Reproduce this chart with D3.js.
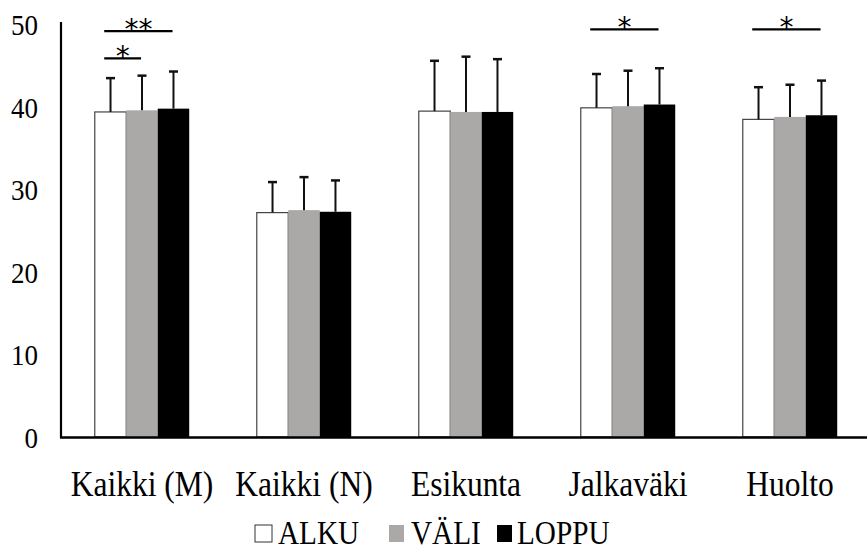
<!DOCTYPE html>
<html>
<head>
<meta charset="utf-8">
<script src="https://cdn.jsdelivr.net/npm/d3@7"></script>
<style>
  html, body { margin: 0; padding: 0; background: #fff; }
  svg { display: block; }
</style>
</head>
<body>
<svg id="chart" width="867" height="551" font-family="Liberation Serif, Times New Roman, serif"></svg>
<script>
// ---- data ----
const categories = ["Kaikki (M)", "Kaikki (N)", "Esikunta", "Jalkaväki", "Huolto"];
const seriesNames = ["ALKU", "VÄLI", "LOPPU"];
const alku  = [39.4, 27.2, 39.5, 39.9, 38.5];
const vali  = [39.6, 27.5, 39.4, 40.1, 38.8];
const loppu = [39.8, 27.3, 39.4, 40.3, 39.0];
const alkuSD  = [4.1, 3.7, 6.1, 4.1, 3.9];
const valiSD  = [4.2, 4.0, 6.7, 4.3, 3.9];
const loppuSD = [4.5, 3.8, 6.4, 4.4, 4.2];
const yTicks = [0, 10, 20, 30, 40, 50];
// significance brackets: category, from series, to series, label, bracket height (data units)
const sigCat   = ["Kaikki (M)", "Kaikki (M)", "Jalkaväki", "Huolto"];
const sigFrom  = ["ALKU", "ALKU", "ALKU", "ALKU"];
const sigTo    = ["VÄLI", "LOPPU", "LOPPU", "LOPPU"];
const sigLabel = ["*", "**", "*", "*"];
const sigLevel = [45.9, 49.2, 49.4, 49.4];

const fills = ["#ffffff", "#aba8a8", "#000000"];
const values = [alku, vali, loppu];
const sds = [alkuSD, valiSD, loppuSD];

// ---- layout ----
const svg = d3.select("#chart");
const FONT = "Liberation Serif, Times New Roman, serif";
const axisX = 61, baseY = 437;
const x0 = d3.scaleBand().domain(categories).range([axisX, 871]).paddingInner(0.417).paddingOuter(0.2085);
const x1 = d3.scaleBand().domain(seriesNames).range([0, x0.bandwidth()]).padding(0);
const y = d3.scaleLinear().domain([0, 50]).range([baseY, 24.5]);

// bars
const barData = [];
categories.forEach((c, ci) => {
  seriesNames.forEach((s, si) => {
    barData.push({ c, s, si, v: values[si][ci], sd: sds[si][ci] });
  });
});

const g = svg.append("g");
g.selectAll("rect.bar").data(barData).enter().append("rect")
  .attr("class", "bar")
  .attr("x", d => x0(d.c) + x1(d.s))
  .attr("y", d => y(d.v))
  .attr("width", x1.bandwidth())
  .attr("height", d => y(0) - y(d.v))
  .attr("fill", d => fills[d.si])
  .attr("stroke", d => d.si === 0 ? "#444" : "none")
  .attr("stroke-width", 1.2);

// error bars (upper only)
const eb = g.selectAll("g.eb").data(barData).enter().append("g").attr("class", "eb");
eb.append("line")
  .attr("x1", d => x0(d.c) + x1(d.s) + x1.bandwidth() / 2)
  .attr("x2", d => x0(d.c) + x1(d.s) + x1.bandwidth() / 2)
  .attr("y1", d => y(d.v))
  .attr("y2", d => y(d.v + d.sd))
  .attr("stroke", "#111").attr("stroke-width", 2);
eb.append("line")
  .attr("x1", d => x0(d.c) + x1(d.s) + x1.bandwidth() / 2 - 4.5)
  .attr("x2", d => x0(d.c) + x1(d.s) + x1.bandwidth() / 2 + 4.5)
  .attr("y1", d => y(d.v + d.sd))
  .attr("y2", d => y(d.v + d.sd))
  .attr("stroke", "#111").attr("stroke-width", 2.5);

// axes lines
svg.append("line").attr("x1", axisX).attr("x2", axisX).attr("y1", 22).attr("y2", baseY + 1)
  .attr("stroke", "#000").attr("stroke-width", 2.2);
svg.append("line").attr("x1", axisX - 1).attr("x2", 867).attr("y1", baseY + 0.5).attr("y2", baseY + 0.5)
  .attr("stroke", "#000").attr("stroke-width", 2.5);

// y tick labels via d3 axis
const yAxis = d3.axisLeft(y).tickValues(yTicks).tickSize(0).tickPadding(0).tickFormat(d3.format("d"));
const yg = svg.append("g").attr("transform", `translate(38,0)`).call(yAxis);
yg.select(".domain").remove();
yg.attr("font-family", FONT).attr("font-size", null);
yg.selectAll(".tick text")
  .attr("x", 0).attr("dy", null).attr("y", 0)
  .attr("transform", `translate(0,10) scale(0.9,1)`)
  .attr("font-size", 30).attr("fill", "#000").attr("text-anchor", "end");

// x category labels via d3 axis
const xAxis = d3.axisBottom(x0).tickSize(0).tickPadding(0);
const xg = svg.append("g").attr("transform", `translate(0,${baseY})`).call(xAxis);
xg.select(".domain").remove();
xg.attr("font-family", FONT).attr("font-size", null);
xg.selectAll(".tick text")
  .attr("x", 0).attr("y", 0).attr("dy", null)
  .attr("transform", `translate(0,59) scale(0.9,1)`)
  .attr("font-size", 35).attr("fill", "#000").attr("text-anchor", "middle");

// significance brackets
sigCat.forEach((c, i) => {
  const xa = x0(c) + x1(sigFrom[i]) + x1.bandwidth() * 0.3;
  const xb = x0(c) + x1(sigTo[i]) + x1.bandwidth() * 0.47;
  const yy = y(sigLevel[i]);
  svg.append("line").attr("x1", xa).attr("x2", xb).attr("y1", yy).attr("y2", yy)
    .attr("stroke", "#000").attr("stroke-width", 2.2);
  svg.append("text").attr("x", (xa + xb) / 2).attr("y", yy + 8)
    .attr("text-anchor", "middle")
    .attr("font-family", "DejaVu Sans, sans-serif")
    .attr("font-size", 28)
    .text(sigLabel[i]);
});

// legend
const legendItems = [
  { name: seriesNames[0], fill: fills[0], rx: 255, rw: 17, tx: 278 },
  { name: seriesNames[1], fill: fills[1], rx: 389, rw: 15, tx: 411 },
  { name: seriesNames[2], fill: fills[2], rx: 497, rw: 15, tx: 517 }
];
const lg = svg.append("g").attr("font-family", FONT);
legendItems.forEach(it => {
  lg.append("rect").attr("x", it.rx).attr("y", 525).attr("width", it.rw).attr("height", 17)
    .attr("fill", it.fill).attr("stroke", it.fill === "#ffffff" ? "#333" : "none").attr("stroke-width", 1);
  lg.append("text").attr("transform", `translate(${it.tx},544) scale(0.86,1)`)
    .attr("font-size", 34).text(it.name);
});
</script>
</body>
</html>
